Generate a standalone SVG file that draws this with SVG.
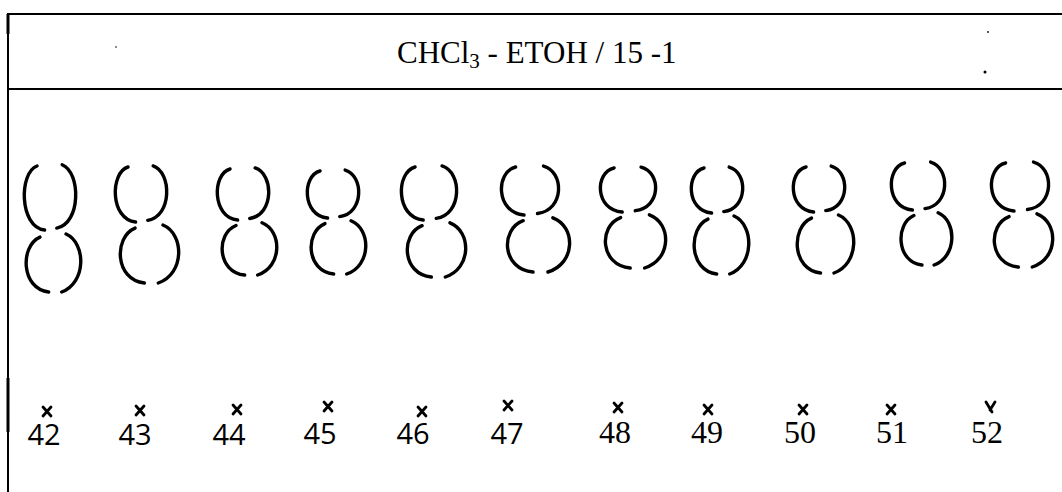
<svg xmlns="http://www.w3.org/2000/svg" xmlns:xlink="http://www.w3.org/1999/xlink" width="1062" height="492" viewBox="0 0 1062 492">
  <style>
    .frame { stroke: #000; stroke-width: 2; fill: none; }
    .frame-thick { stroke: #000; stroke-width: 3; fill: none; }
    .br { stroke: #000; stroke-width: 3.4; fill: none; stroke-linecap: round; vector-effect: non-scaling-stroke; }
    .mark { stroke: #000; stroke-width: 2.8; fill: none; stroke-linecap: round; }
    .title { font-family: "Liberation Serif", "Times New Roman", serif; font-size: 31px; fill: #000; }
    .num-sans { font-family: "Open Sans", "DejaVu Sans", sans-serif; font-size: 29px; fill: #000; text-anchor: middle; }
    .num-serif { font-family: "Liberation Serif", "Times New Roman", serif; font-size: 32px; fill: #000; text-anchor: middle; }
  </style>
  <defs>
    <!-- upper lobe of a spot: unit width = half-width, unit height = lobe height -->
    <g id="lobeUp">
      <path class="br" d="M-0.48,0 C-1.15,0.1 -1.15,0.95 -0.2,1"/>
      <path class="br" d="M0.45,-0.02 C1.15,0.1 1.15,0.9 0.25,0.97"/>
    </g>
    <!-- lower lobe of a spot -->
    <g id="lobeDown">
      <path class="br" d="M-0.45,0.1 C-1.15,0.25 -1.1,0.95 -0.15,1"/>
      <path class="br" d="M0.45,0.05 C1.15,0.2 1.15,0.85 0.3,1"/>
    </g>
  </defs>

  <rect width="1062" height="492" fill="#fff"/>

  <!-- plate frame -->
  <g id="frame">
    <line class="frame" x1="7" y1="14" x2="1062" y2="14"/>
    <line class="frame" x1="8" y1="13" x2="8" y2="492"/>
    <line class="frame" x1="8" y1="89" x2="1062" y2="89"/>
    <line class="frame-thick" x1="8" y1="14" x2="8" y2="34"/>
    <line class="frame-thick" x1="8" y1="378" x2="8" y2="432"/>
    <circle cx="116" cy="47" r="0.8" fill="#000"/>
    <circle cx="985" cy="72" r="1.5" fill="#000"/>
    <circle cx="988" cy="32" r="0.9" fill="#000"/>
  </g>

  <g id="title">
    <text class="title" x="397" y="63">CHCl<tspan font-size="21" dy="5">3</tspan><tspan dy="-5"> - ETOH / 15 -1</tspan></text>
  </g>

  <!-- spots, one group per lane -->
  <g id="lane42">
    <use xlink:href="#lobeUp" transform="translate(50,166) scale(27,64)"/>
    <use xlink:href="#lobeDown" transform="translate(53,231) scale(29,61)"/>
  </g>
  <g id="lane43">
    <use xlink:href="#lobeUp" transform="translate(141,167) scale(27,55)"/>
    <use xlink:href="#lobeDown" transform="translate(149,222) scale(31,61)"/>
  </g>
  <g id="lane44">
    <use xlink:href="#lobeUp" transform="translate(243,169) scale(27,51)"/>
    <use xlink:href="#lobeDown" transform="translate(249,220) scale(29,55)"/>
  </g>
  <g id="lane45">
    <use xlink:href="#lobeUp" transform="translate(333,171) scale(27,47)"/>
    <use xlink:href="#lobeDown" transform="translate(338,218) scale(29,56)"/>
  </g>
  <g id="lane46">
    <use xlink:href="#lobeUp" transform="translate(429,167) scale(29,53)"/>
    <use xlink:href="#lobeDown" transform="translate(436,220) scale(31,57)"/>
  </g>
  <g id="lane47">
    <use xlink:href="#lobeUp" transform="translate(530,167) scale(30,48)"/>
    <use xlink:href="#lobeDown" transform="translate(538,215) scale(33,57)"/>
  </g>
  <g id="lane48">
    <use xlink:href="#lobeUp" transform="translate(628,168) scale(29,44)"/>
    <use xlink:href="#lobeDown" transform="translate(635,212) scale(32,56)"/>
  </g>
  <g id="lane49">
    <use xlink:href="#lobeUp" transform="translate(717,168) scale(27,45)"/>
    <use xlink:href="#lobeDown" transform="translate(721,213) scale(29,61)"/>
  </g>
  <g id="lane50">
    <use xlink:href="#lobeUp" transform="translate(819,167) scale(27,45)"/>
    <use xlink:href="#lobeDown" transform="translate(825,212) scale(30,61)"/>
  </g>
  <g id="lane51">
    <use xlink:href="#lobeUp" transform="translate(918,163) scale(28,47)"/>
    <use xlink:href="#lobeDown" transform="translate(926,210) scale(27,55)"/>
  </g>
  <g id="lane52">
    <use xlink:href="#lobeUp" transform="translate(1020,163) scale(30,48)"/>
    <use xlink:href="#lobeDown" transform="translate(1023,211) scale(31,56)"/>
  </g>

  <!-- origin marks -->
  <g id="origins">
    <path class="mark" d="M43,407 L51,416 M51,407 L43,416"/>
    <path class="mark" d="M136,406 L144,415 M144,406 L136,415"/>
    <path class="mark" d="M233,405 L241,414 M241,405 L233,414"/>
    <path class="mark" d="M324,402 L332,411 M332,402 L324,411"/>
    <path class="mark" d="M418,407 L426,416 M426,407 L418,416"/>
    <path class="mark" d="M504,401 L512,410 M512,401 L504,410"/>
    <path class="mark" d="M614,403 L622,412 M622,403 L614,412"/>
    <path class="mark" d="M704,405 L712,414 M712,405 L704,414"/>
    <path class="mark" d="M799,405 L807,414 M807,405 L799,414"/>
    <path class="mark" d="M887,405 L895,414 M895,405 L887,414"/>
    <path class="mark" d="M986,402 L992,412 M995,402 L990,410"/>
  </g>

  <!-- lane labels -->
  <g id="labels">
    <text class="num-sans" x="44" y="445">42</text>
    <text class="num-sans" x="135" y="445">43</text>
    <text class="num-sans" x="229" y="445">44</text>
    <text class="num-sans" x="320" y="444">45</text>
    <text class="num-sans" x="413" y="444">46</text>
    <text class="num-sans" x="507" y="444">47</text>
    <text class="num-serif" x="615" y="443">48</text>
    <text class="num-serif" x="707" y="443">49</text>
    <text class="num-serif" x="800" y="443">50</text>
    <text class="num-serif" x="892" y="443">51</text>
    <text class="num-serif" x="987" y="443">52</text>
  </g>
</svg>
